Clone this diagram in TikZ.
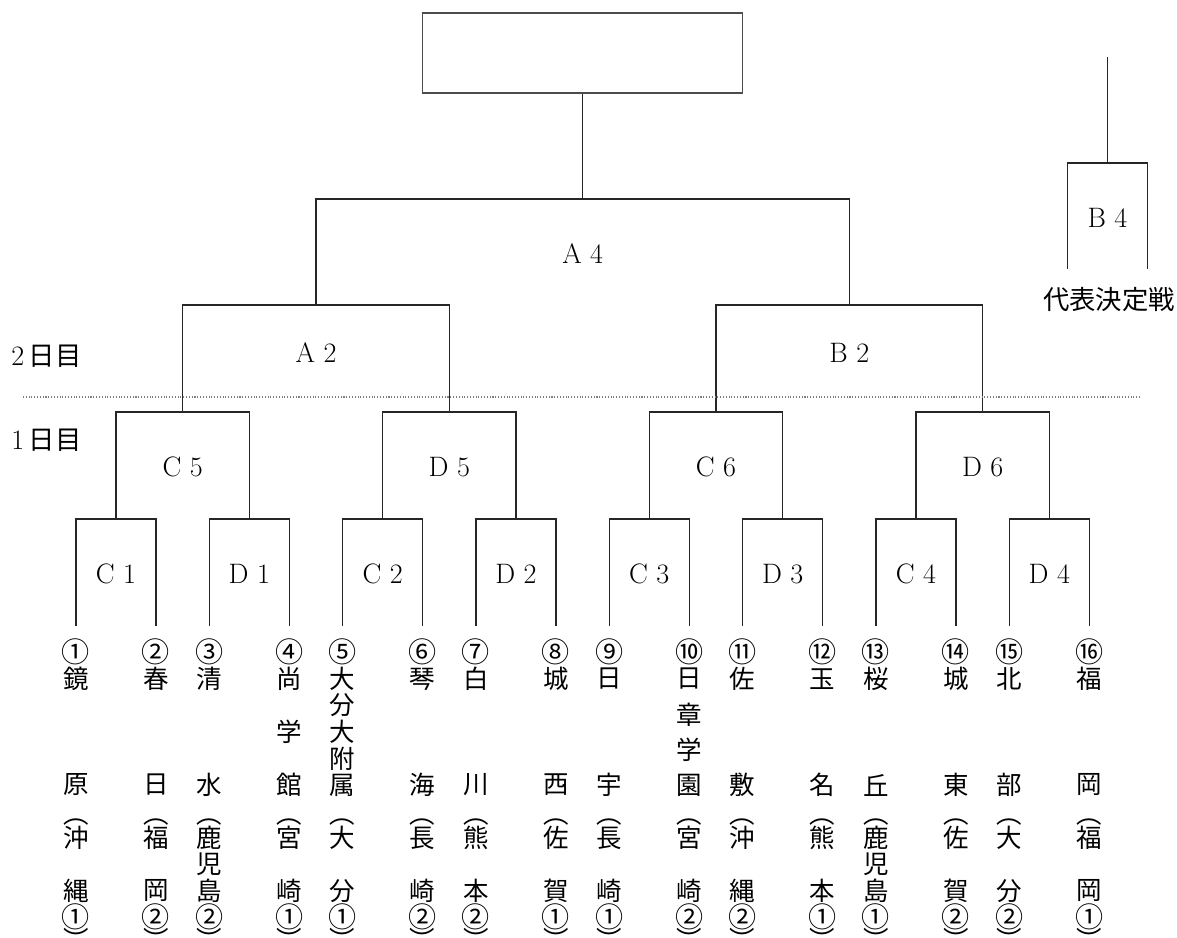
\documentclass[tikz,border=0pt]{standalone}
\usepackage{fontspec}
\newfontfamily\jp{Noto Sans CJK JP}
\usetikzlibrary{positioning}

\tikzset{
    bracket/.style={line width=0.8pt, black!85},
    lbl/.style={font=\fontsize{16}{16}\selectfont, inner sep=0pt},
    jpchar/.style={font=\fontsize{14.5}{14.5}\selectfont\jp, inner sep=0pt},
    jpnum/.style={font=\fontsize{16}{16}\selectfont\jp, inner sep=0pt},
}

% #1 leaf, #2 entry number, #3 school, #4 prefecture, #5 seed number
\newcommand{\school}[5]{%
    \node[jpnum] (n#1) at (l#1 |- 0,652) {#2};
    \foreach \c [count=\j] in {#3} {\xdef\nname{\j}}
    \foreach \c [count=\j] in {#3} {
        \pgfmathsetmacro\yy{679+(\j-1)*106/(\nname-1)}
        \node[jpchar] (s#1-\j) at (l#1 |- 0,\yy) {\c};
    }
    \node[jpchar] (o#1) at (l#1 |- 0,822) {︵};
    \foreach \c [count=\j] in {#4} {\xdef\npref{\j}}
    \foreach \c [count=\j] in {#4} {
        \pgfmathsetmacro\yy{838+(\j-1)*53/(\npref-1)}
        \node[jpchar] (p#1-\j) at (l#1 |- 0,\yy) {\c};
    }
    \node[jpnum] (q#1) at (l#1 |- 0,917) {#5};
    \node[jpchar] (e#1) at (l#1 |- 0,939) {︶};
}

\begin{document}
\begin{tikzpicture}[x=0.02cm, y=-0.02cm]
        \useasboundingbox (0,0) rectangle (1177,937);
        % leaves
        \coordinate (l1) at (76,626);
        \coordinate[right=16mm of l1] (l2);
        \coordinate (l3) at (209.3,626);
        \coordinate[right=16mm of l3] (l4);
        \coordinate (l5) at (342.7,626);
        \coordinate[right=16mm of l5] (l6);
        \coordinate (l7) at (476,626);
        \coordinate[right=16mm of l7] (l8);
        \coordinate (l9) at (609.3,626);
        \coordinate[right=16mm of l9] (l10);
        \coordinate (l11) at (742.7,626);
        \coordinate[right=16mm of l11] (l12);
        \coordinate (l13) at (876,626);
        \coordinate[right=16mm of l13] (l14);
        \coordinate (l15) at (1009.3,626);
        \coordinate[right=16mm of l15] (l16);
        % matches
        \coordinate (m1) at (116,519);
        \coordinate (m2) at (249.3,519);
        \coordinate (m3) at (382.7,519);
        \coordinate (m4) at (516,519);
        \coordinate (m5) at (649.3,519);
        \coordinate (m6) at (782.7,519);
        \coordinate (m7) at (916,519);
        \coordinate (m8) at (1049.3,519);
        \coordinate (m9) at (182.7,412);
        \coordinate (m10) at (449.3,412);
        \coordinate (m11) at (716,412);
        \coordinate (m12) at (982.7,412);
        \coordinate (m13) at (316,305);
        \coordinate (m14) at (849.3,305);
        \coordinate (m15) at (582.7,199);
        \node[draw, gray!60!black, line width=0.6pt, minimum width=6.41cm, minimum height=1.6cm] (final) at (582.7,53) {};

        \draw[bracket] (l1) |- (m1) -| (l2);
        \draw[bracket] (l3) |- (m2) -| (l4);
        \draw[bracket] (l5) |- (m3) -| (l6);
        \draw[bracket] (l7) |- (m4) -| (l8);
        \draw[bracket] (l9) |- (m5) -| (l10);
        \draw[bracket] (l11) |- (m6) -| (l12);
        \draw[bracket] (l13) |- (m7) -| (l14);
        \draw[bracket] (l15) |- (m8) -| (l16);
        \draw[bracket] (m1) |- (m9) -| (m2);
        \draw[bracket] (m3) |- (m10) -| (m4);
        \draw[bracket] (m5) |- (m11) -| (m6);
        \draw[bracket] (m7) |- (m12) -| (m8);
        \draw[bracket] (m9) |- (m13) -| (m10);
        \draw[bracket] (m11) |- (m14) -| (m12);
        \draw[bracket] (m13) |- (m15) -| (m14);
        \draw[bracket] (m15) -- (final.south);

        % playoff
        \coordinate (b4top) at (1107.5,57);
        \coordinate (b4) at (1107.5,163);
        \coordinate (b4l) at (1067.5,269);
        \coordinate (b4r) at (1147.5,269);
        \draw[bracket, line width=0.6pt] (b4top) -- (b4);
        \draw[bracket, line width=0.6pt] (b4l) |- (b4) -| (b4r);

        % day separator
        \coordinate (dl) at (23,397);
        \coordinate (dr) at (1140,397);
        \draw[gray, line width=0.6pt, dash pattern=on 0.6pt off 1pt] (dl) -- (dr);

        \node[lbl] (t-c1) at (116,574) {C 1};
        \node[lbl] (t-d1) at (249.3,574) {D 1};
        \node[lbl] (t-c2) at (382.7,574) {C 2};
        \node[lbl] (t-d2) at (516,574) {D 2};
        \node[lbl] (t-c3) at (649.3,574) {C 3};
        \node[lbl] (t-d3) at (782.7,574) {D 3};
        \node[lbl] (t-c4) at (916,574) {C 4};
        \node[lbl] (t-d4) at (1049.3,574) {D 4};
        \node[lbl] (t-c5) at (182.7,467) {C 5};
        \node[lbl] (t-d5) at (449.3,467) {D 5};
        \node[lbl] (t-c6) at (716,467) {C 6};
        \node[lbl] (t-d6) at (982.7,467) {D 6};
        \node[lbl] (t-a2) at (316,353) {A 2};
        \node[lbl] (t-b2) at (849.3,353) {B 2};
        \node[lbl] (t-a4) at (582.7,254) {A 4};
        \node[lbl] (t-b4) at (1107.5,218) {B 4};
        \node[lbl, font=\fontsize{15}{15}\selectfont\jp] (t-rep) at (1109,300) {代表決定戦};
        \node[lbl, anchor=west] (day2) at (11,356) {2\,{\fontsize{15}{15}\selectfont\jp 日目}};
        \node[lbl, anchor=west] (day1) at (11,440) {1\,{\fontsize{15}{15}\selectfont\jp 日目}};

        \school{1}{①}{鏡,原}{沖,縄}{①}
        \school{2}{②}{春,日}{福,岡}{②}
        \school{3}{③}{清,水}{鹿,児,島}{②}
        \school{4}{④}{尚,学,館}{宮,崎}{①}
        \school{5}{⑤}{大,分,大,附,属}{大,分}{①}
        \school{6}{⑥}{琴,海}{長,崎}{②}
        \school{7}{⑦}{白,川}{熊,本}{②}
        \school{8}{⑧}{城,西}{佐,賀}{①}
        \school{9}{⑨}{日,宇}{長,崎}{①}
        \school{10}{⑩}{日,章,学,園}{宮,崎}{②}
        \school{11}{⑪}{佐,敷}{沖,縄}{②}
        \school{12}{⑫}{玉,名}{熊,本}{①}
        \school{13}{⑬}{桜,丘}{鹿,児,島}{①}
        \school{14}{⑭}{城,東}{佐,賀}{②}
        \school{15}{⑮}{北,部}{大,分}{②}
        \school{16}{⑯}{福,岡}{福,岡}{①}
\end{tikzpicture}
\end{document}
